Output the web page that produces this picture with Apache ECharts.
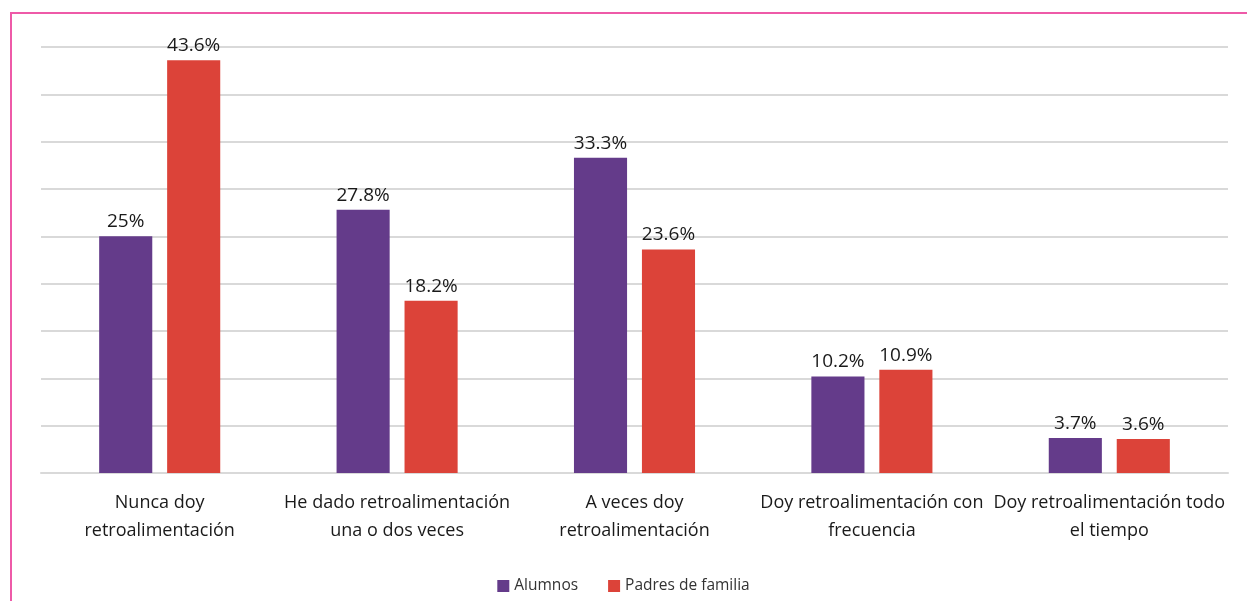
<!DOCTYPE html>
<html>
<head>
<meta charset="utf-8">
<script src="https://cdn.jsdelivr.net/npm/echarts@6/dist/echarts.min.js"></script>
<style>
  html, body { margin: 0; padding: 0; background: #fff; }
  #frame { position: absolute; left: 10px; top: 12px; right: 0; bottom: 0;
           border-top: 2px solid #ee5aa8; border-left: 2px solid #ee5aa8; }
  #chart { position: absolute; left: 0; top: 0; width: 1247px; height: 601px; }
</style>
</head>
<body>
<div id="frame"></div>
<div id="chart"></div>
<script>
const categories = [
  "Nunca doy\nretroalimentación",
  "He dado retroalimentación\nuna o dos veces",
  "A veces doy\nretroalimentación",
  "Doy retroalimentación con\nfrecuencia",
  "Doy retroalimentación todo\nel tiempo"
];
const alumnos = [25, 27.8, 33.3, 10.2, 3.7];
const padres = [43.6, 18.2, 23.6, 10.9, 3.6];

const FONT = "'Open Sans', Lato, sans-serif";
const COLOR = { alumnos: "#643b8a", padres: "#dc4339" };

const chart = echarts.init(document.getElementById("chart"));

function barSeries(name, data, color) {
  return {
    name,
    type: "bar",
    data,
    barGap: "28%",
    barCategoryGap: "49%",
    itemStyle: { color },
    label: {
      show: true,
      position: "top",
      distance: 5,
      formatter: p => p.value + "%",
      color: "#1a1a1a",
      fontFamily: FONT,
      fontSize: 19
    }
  };
}

chart.setOption({
  animation: false,
  grid: { left: 41, right: 19, top: 47, bottom: 128 },
  legend: {
    bottom: 2,
    left: "center",
    icon: "rect",
    itemWidth: 12,
    itemHeight: 12,
    itemGap: 30,
    textStyle: { color: "#333", fontFamily: FONT, fontSize: 15.5 },
    data: ["Alumnos", "Padres de familia"]
  },
  xAxis: {
    type: "category",
    data: categories,
    axisLine: { lineStyle: { color: "#d9d9d9", width: 2 } },
    axisTick: { show: false },
    axisLabel: {
      interval: 0,
      margin: 16,
      color: "#1a1a1a",
      fontFamily: FONT,
      fontSize: 18,
      lineHeight: 28
    }
  },
  yAxis: {
    type: "value",
    min: 0,
    max: 45,
    interval: 5,
    axisLabel: { show: false },
    axisLine: { show: false },
    axisTick: { show: false },
    splitLine: { lineStyle: { color: "#d9d9d9", width: 2 } }
  },
  series: [
    barSeries("Alumnos", alumnos, COLOR.alumnos),
    barSeries("Padres de familia", padres, COLOR.padres)
  ]
});
</script>
</body>
</html>
